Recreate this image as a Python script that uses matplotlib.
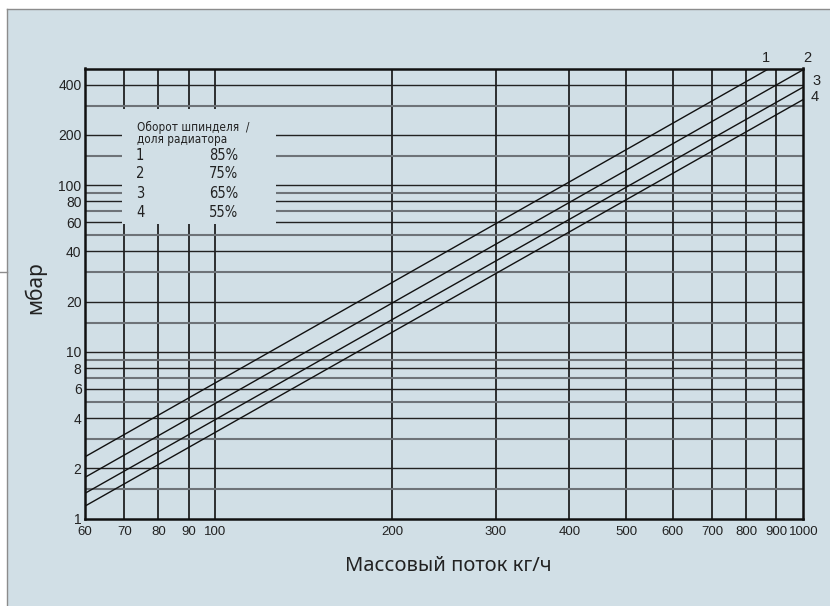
import matplotlib
matplotlib.use("Agg")
import matplotlib.pyplot as plt
from matplotlib.patches import Rectangle
from matplotlib.lines import Line2D
from matplotlib.ticker import NullLocator, FixedLocator, FixedFormatter

# ---- data ----
flow_kg_h = [60, 1000]
dp_line1 = [2.35, 653]
dp_line2 = [1.77, 492]
dp_line3 = [1.42, 387]
dp_line4 = [1.19, 326]
series_ids = ["1", "2", "3", "4"]
radiator_share = ["85%", "75%", "65%", "55%"]

x_ticks = [60, 70, 80, 90, 100, 200, 300, 400, 500, 600, 700, 800, 900, 1000]
x_tick_labels = ["60", "70", "80", "90", "100", "200", "300", "400", "500",
                 "600", "700", "800", "900", "1000"]
y_ticks = [1, 2, 4, 6, 8, 10, 20, 40, 60, 80, 100, 200, 400]
y_tick_labels = ["1", "2", "4", "6", "8", "10", "20", "40", "60", "80", "100", "200", "400"]
y_grid_minor = [1.5, 3, 5, 7, 9, 15, 30, 50, 70, 90, 150, 300]

legend_title = "Оборот шпинделя  /\nдоля радиатора"
x_label = "Массовый поток кг/ч"
y_label = "мбар"

BG = "#d1dfe6"
W, H = 830, 606

fig = plt.figure(figsize=(W / 100, H / 100), dpi=100, facecolor="white")

# background panel
bx0 = 7.3 / W
by1 = 1 - 9.3 / H
fig.patches.append(Rectangle((bx0, 0), 1 - bx0, by1, transform=fig.transFigure,
                             facecolor=BG, edgecolor="none", zorder=-2))
fig.lines.append(Line2D([bx0, bx0], [0, by1], transform=fig.transFigure,
                        color="#8c8c8c", lw=1.0, zorder=-1))
fig.lines.append(Line2D([bx0, 1], [by1, by1], transform=fig.transFigure,
                        color="#8c8c8c", lw=1.0, zorder=-1))
fig.lines.append(Line2D([0, bx0], [1 - 272 / H, 1 - 272 / H], transform=fig.transFigure,
                        color="#8c8c8c", lw=1.0, zorder=-1))

L, R, B, T = 85, 803.3, 518.7, 68.5
ax = fig.add_axes([L / W, 1 - B / H, (R - L) / W, (B - T) / H])
ax.set_zorder(2)
ax.set_facecolor("none")
ax.set_xscale("log")
ax.set_yscale("log")
ax.set_xlim(60, 1000)
ax.set_ylim(1, 500)

ax.xaxis.set_major_locator(FixedLocator(x_ticks))
ax.xaxis.set_major_formatter(FixedFormatter(x_tick_labels))
ax.xaxis.set_minor_locator(NullLocator())
ax.yaxis.set_major_locator(FixedLocator(y_ticks))
ax.yaxis.set_major_formatter(FixedFormatter(y_tick_labels))
ax.yaxis.set_minor_locator(NullLocator())
for lab in ax.get_yticklabels():
    lab.set_fontfamily(["Liberation Sans", "DejaVu Sans"])
    lab.set_fontsize(10)
    lab.set_color("#222222")
for lab in ax.get_xticklabels():
    lab.set_fontfamily(["Liberation Sans", "DejaVu Sans"])
    lab.set_fontsize(9.5)
    lab.set_color("#222222")
ax.tick_params(axis="both", length=0)
ax.tick_params(axis="x", pad=5)
ax.tick_params(axis="y", pad=2.5)

# grid
for xv in x_ticks[1:-1]:
    ax.axvline(xv, color="#111111", lw=1.2, zorder=0.5)
for yv in y_ticks[1:]:
    ax.axhline(yv, color="#222222", lw=1.0, zorder=0.5)
for yv in y_grid_minor:
    ax.axhline(yv, color="#6e7378", lw=1.5, zorder=0.5)

for s in ax.spines.values():
    s.set_color("#111111")
    s.set_linewidth(1.8)

# legend block (masks grid)
fx = lambda px: (px - L) / (R - L)
fy = lambda py: (B - py) / (B - T)
ax.add_patch(Rectangle((fx(122), fy(224)), fx(276) - fx(122), fy(109) - fy(224),
                       transform=ax.transAxes, facecolor=BG, edgecolor="none", zorder=1))

# curves
for dp in (dp_line1, dp_line2, dp_line3, dp_line4):
    ax.plot(flow_kg_h, dp, color="#111111", lw=1.0, zorder=3)

# curve labels
label_pos = [(766, 58), (807, 58), (817, 81), (815, 97)]
for sid, (px, py) in zip(series_ids, label_pos):
    ax.text(fx(px), fy(py), sid, transform=ax.transAxes, ha="center", va="center",
            fontsize=10.5, family=["Liberation Sans", "DejaVu Sans"], color="#222222",
            clip_on=False)

# legend text
ax.text(fx(136.5), fy(120.5), legend_title, transform=ax.transAxes, ha="left", va="top",
        fontsize=8.5, family=["DejaVu Sans"], stretch="condensed", color="#222222",
        linespacing=0.95, zorder=4)
row_y = [155, 174, 193, 212.3]
for sid, share, py in zip(series_ids, radiator_share, row_y):
    ax.text(fx(136), fy(py), sid, transform=ax.transAxes, ha="left", va="center",
            fontsize=10.5, family=["DejaVu Sans"], stretch="condensed",
            color="#222222", zorder=4)
    ax.text(fx(238.5), fy(py), share, transform=ax.transAxes, ha="right", va="center",
            fontsize=10.5, family=["DejaVu Sans"], stretch="condensed",
            color="#222222", zorder=4)

# axis labels
fig.text(448 / W, 1 - 566 / H, x_label, ha="center", va="center", fontsize=14.5,
         family=["Noto Sans", "DejaVu Sans"], color="#222222")
fig.text(35 / W, 1 - 288 / H, y_label, ha="center", va="center", fontsize=15,
         rotation=90, family=["Noto Sans", "DejaVu Sans"], color="#222222")

fig.savefig("out.png", dpi=100, facecolor="white")
